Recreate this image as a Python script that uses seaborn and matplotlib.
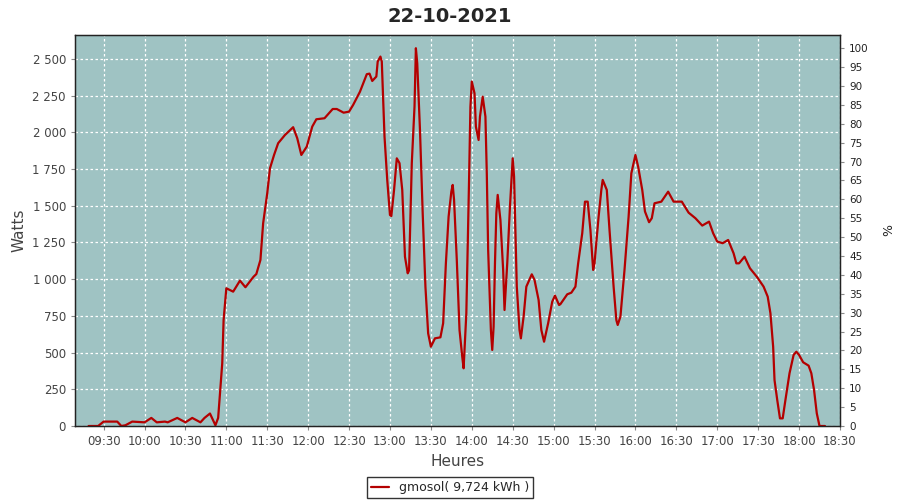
import pandas as pd
import seaborn as sns
import matplotlib.pyplot as plt
import matplotlib.dates as mdates
from matplotlib.ticker import FuncFormatter, MultipleLocator

# readings of the day (time, watts)
times = ["09:19", "09:26", "09:30", "09:40", "09:43", "09:46", "09:51", "10:00", "10:05", "10:09",
         "10:15", "10:17", "10:24", "10:30", "10:35", "10:41", "10:44", "10:48", "10:52", "10:54",
         "10:57", "10:58", "11:00", "11:05", "11:10", "11:14", "11:20", "11:22", "11:25", "11:27",
         "11:30", "11:32", "11:35", "11:38", "11:43", "11:49", "11:52", "11:55", "11:59", "12:03",
         "12:06", "12:12", "12:18", "12:21", "12:26", "12:30", "12:33", "12:38", "12:43", "12:45",
         "12:47", "12:50", "12:51", "12:53", "12:54", "12:55", "12:56", "12:58", "13:00", "13:01",
         "13:03", "13:05", "13:07", "13:09", "13:11", "13:13", "13:14", "13:16", "13:18", "13:19",
         "13:20", "13:22", "13:24", "13:26", "13:28", "13:30", "13:33", "13:37", "13:39", "13:41",
         "13:43", "13:45", "13:46", "13:47", "13:49", "13:51", "13:53", "13:54", "13:56", "13:58",
         "13:59", "14:00", "14:02", "14:03", "14:05", "14:06", "14:08", "14:10", "14:11", "14:12",
         "14:14", "14:15", "14:16", "14:17", "14:18", "14:19", "14:21", "14:23", "14:24", "14:26",
         "14:28", "14:30", "14:31", "14:32", "14:33", "14:35", "14:36", "14:38", "14:40", "14:44",
         "14:46", "14:49", "14:51", "14:53", "14:56", "14:59", "15:01", "15:04", "15:05", "15:10",
         "15:13", "15:16", "15:18", "15:21", "15:23", "15:25", "15:27", "15:29", "15:30", "15:33",
         "15:35", "15:36", "15:39", "15:41", "15:44", "15:46", "15:47", "15:49", "15:52", "15:55",
         "15:57", "16:00", "16:02", "16:05", "16:07", "16:10", "16:12", "16:14", "16:19", "16:24",
         "16:28", "16:34", "16:39", "16:44", "16:49", "16:54", "16:57", "17:00", "17:04", "17:08",
         "17:12", "17:14", "17:16", "17:20", "17:24", "17:29", "17:34", "17:37", "17:39", "17:41",
         "17:42", "17:44", "17:46", "17:48", "17:50", "17:53", "17:56", "17:58", "18:00", "18:03",
         "18:07", "18:09", "18:11", "18:13", "18:15", "18:19"]
watts = [0, 0, 30, 30, 0, 5, 30, 25, 55, 25,
         30, 25, 55, 25, 55, 25, 55, 85, 5, 55,
         427, 722, 938, 915, 990, 945, 1017, 1035, 1131, 1381,
         1585, 1755, 1846, 1926, 1982, 2035, 1960, 1846, 1903, 2039,
         2089, 2096, 2159, 2159, 2134, 2141, 2187, 2277, 2396, 2400,
         2350, 2380, 2482, 2516, 2482, 2225, 1971, 1676, 1437, 1430,
         1608, 1823, 1790, 1608, 1153, 1040, 1060, 1790, 2175, 2573,
         2470, 2016, 1449, 949, 631, 540, 597, 604, 700, 1108,
         1426, 1596, 1642, 1540, 1131, 654, 472, 393, 768, 1676,
         2175, 2346, 2266, 2039, 1948, 2107, 2243, 2107, 1721, 1199,
         654, 518, 676, 1108, 1449, 1574, 1403, 1063, 790, 1108,
         1494, 1823, 1698, 1335, 949, 654, 597, 745, 949, 1033,
         995, 858, 654, 574, 700, 847, 888, 824, 830, 897,
         908, 949, 1108, 1313, 1528, 1528, 1335, 1063, 1108, 1426,
         1608, 1676, 1608, 1335, 949, 722, 688, 745, 1063, 1426,
         1721, 1846, 1766, 1608, 1461, 1388, 1415, 1517, 1528, 1596,
         1528, 1528, 1453, 1415, 1365, 1392, 1313, 1256, 1245, 1267,
         1176, 1108, 1108, 1153, 1074, 1017, 949, 881, 768, 540,
         313, 177, 52, 52, 177, 359, 484, 506, 484, 434,
         411, 359, 245, 86, 0, 0]

day = "2021-10-22"
title = "22-10-2021"
series_label = "gmosol( 9,724 kWh )"

df = pd.DataFrame({"Heures": pd.to_datetime([f"{day} {t}" for t in times]), "Watts": watts})

sns.set_style("ticks")
plt.rcParams['font.family'] = ['DejaVu Sans']

fig = plt.figure(figsize=(9, 5), dpi=100)
ax = fig.add_axes([0.0833, 0.148, 0.85, 0.782])
ax.set_facecolor("#9fc3c3")

sns.lineplot(data=df, x="Heures", y="Watts", ax=ax, color="#b40000", linewidth=1.6,
             label=series_label, legend=False)

ax.set_xlim(pd.Timestamp(f"{day} 09:09"), pd.Timestamp(f"{day} 18:30"))
ax.set_ylim(0, 2663)
ax.yaxis.set_major_locator(MultipleLocator(250))
ax.yaxis.set_major_formatter(FuncFormatter(lambda v, p: f"{int(v):,}".replace(",", " ")))
ax.xaxis.set_major_locator(mdates.MinuteLocator(byminute=[0, 30]))
ax.xaxis.set_major_formatter(mdates.DateFormatter("%H:%M"))
ax.grid(True, color="white", linestyle=(0, (2, 2)), linewidth=0.9)
ax.set_axisbelow(True)
ax.tick_params(labelsize=8.5, colors="#444444", length=3, color="#888888")
ax.set_xlabel("Heures", fontsize=11, color="#444444")
ax.set_ylabel("Watts", fontsize=11, color="#444444")
for s in ax.spines.values():
    s.set_color("#222222")
    s.set_linewidth(1.0)

ax2 = ax.twinx()
ax2.set_ylim(0, 103.5)
ax2.yaxis.set_major_locator(MultipleLocator(5))
ax2.tick_params(labelsize=7.5, colors="#222222", length=3, color="#888888")
ax2.set_ylabel("%", fontsize=9, color="#222222", labelpad=10)
for s in ax2.spines.values():
    s.set_color("#222222")

fig.suptitle(title, fontsize=14, fontweight="bold", y=0.985)

handles, labels = ax.get_legend_handles_labels()
leg = fig.legend(handles, labels, loc="center", bbox_to_anchor=(0.5, 0.025), fontsize=9,
                 frameon=True, fancybox=False, edgecolor="black", handlelength=1.5,
                 borderpad=0.3)
leg.get_frame().set_linewidth(1.0)

fig.savefig("out.png", dpi=100)
